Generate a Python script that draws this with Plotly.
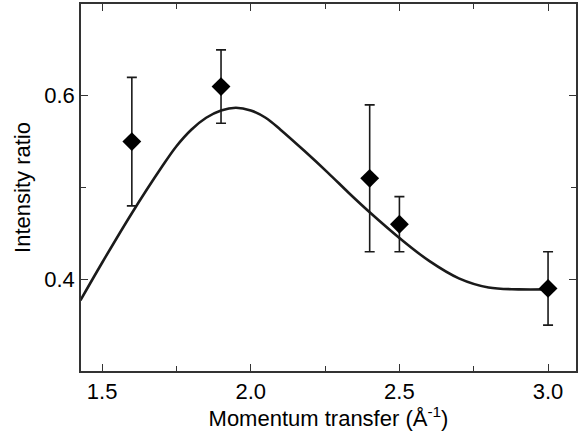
import plotly.graph_objects as go

# Measured data points
q_data = [1.6, 1.9, 2.4, 2.5, 3.0]
ratio_data = [0.55, 0.61, 0.51, 0.46, 0.39]
err_plus = [0.07, 0.04, 0.08, 0.03, 0.04]
err_minus = [0.07, 0.04, 0.08, 0.03, 0.04]

# Fitted curve
q_fit = [1.427, 1.5, 1.6, 1.7, 1.75, 1.8, 1.85, 1.9, 1.95, 2.0, 2.05, 2.1, 2.18,
         2.26, 2.33, 2.4, 2.5, 2.6, 2.7, 2.8, 2.9, 3.0]
ratio_fit = [0.377, 0.418, 0.472, 0.522, 0.545, 0.563, 0.576, 0.584, 0.587, 0.584, 0.576, 0.563, 0.540,
             0.516, 0.494, 0.473, 0.445, 0.420, 0.401, 0.391, 0.389, 0.389]

x_ticks = [1.5, 2.0, 2.5, 3.0]
x_ticklabels = ["1.5", "2.0", "2.5", "3.0"]
y_ticks = [0.4, 0.6]
y_ticklabels = ["0.4", "0.6"]

FONT = "Liberation Sans, Arial, sans-serif"

fig = go.Figure()
fig.add_trace(go.Scatter(
    x=q_fit, y=ratio_fit, mode="lines", line=dict(color="#1a1a1a", width=2.6, shape="spline", smoothing=1.0),
    showlegend=False, hoverinfo="skip"))
fig.add_trace(go.Scatter(
    x=q_data, y=ratio_data, mode="markers",
    marker=dict(symbol="diamond", size=14.5, color="black"),
    error_y=dict(type="data", symmetric=False, array=err_plus, arrayminus=err_minus,
                 color="#1a1a1a", thickness=1.6, width=5),
    showlegend=False))

axis_common = dict(
    showline=True, linecolor="#333333", linewidth=1.5, mirror="allticks",
    ticks="inside", ticklen=7, tickwidth=1.3, tickcolor="#333333",
    showgrid=False, zeroline=False,
    tickfont=dict(family=FONT, size=22, color="black"),
)

fig.update_xaxes(
    range=[1.429, 3.094], tickmode="array", tickvals=x_ticks, ticktext=x_ticklabels,
    minor=dict(dtick=0.25, tick0=1.5, ticks="inside", ticklen=5, tickwidth=1.3, tickcolor="#333333"),
    title=dict(text="Momentum transfer (Å<sup>-1</sup>)", standoff=2,
               font=dict(family=FONT, size=22, color="black")),
    **axis_common)
fig.update_yaxes(
    range=[0.3, 0.7], tickmode="array", tickvals=y_ticks, ticktext=y_ticklabels,
    minor=dict(dtick=0.1, tick0=0.3, ticks="inside", ticklen=5, tickwidth=1.3, tickcolor="#333333"),
    title=dict(text="Intensity ratio", standoff=8,
               font=dict(family=FONT, size=22, color="black")),
    **axis_common)

fig.update_layout(
    width=579, height=431,
    margin=dict(l=81, r=1, t=4, b=60),
    paper_bgcolor="white", plot_bgcolor="white",
    font=dict(family=FONT),
)

fig.write_html("out.html", config={"displayModeBar": False},
               post_script="document.body.style.margin='0';document.body.style.overflow='hidden';")
